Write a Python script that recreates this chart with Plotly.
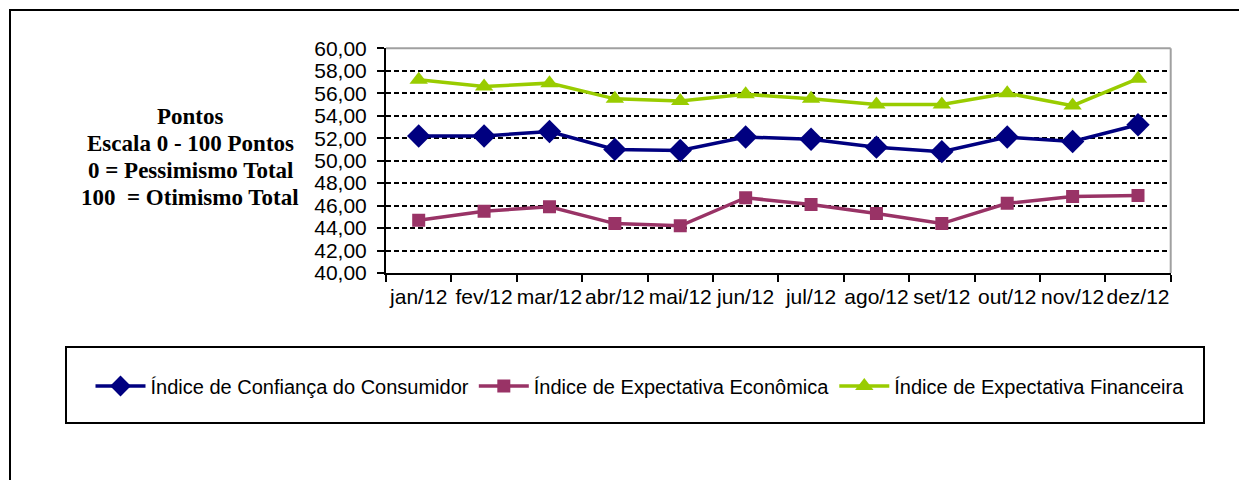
import plotly.graph_objects as go

W, H = 1247, 480
OX, OY = 8, 8  # page body margin compensation

meses = ["jan/12", "fev/12", "mar/12", "abr/12", "mai/12", "jun/12",
         "jul/12", "ago/12", "set/12", "out/12", "nov/12", "dez/12"]
icc = [52.2, 52.2, 52.6, 51.0, 50.9, 52.1, 51.9, 51.2, 50.8, 52.1, 51.7, 53.2]
iee = [44.7, 45.5, 45.9, 44.4, 44.2, 46.7, 46.1, 45.3, 44.4, 46.2, 46.8, 46.9]
ief = [57.2, 56.6, 56.9, 55.5, 55.3, 55.9, 55.5, 55.0, 55.0, 56.0, 54.9, 57.3]

series = [
    ("Índice de Confiança do Consumidor", icc, "#000080", "diamond", 18),
    ("Índice de Expectativa Econômica", iee, "#993366", "square", 13),
    ("Índice de Expectativa Financeira", ief, "#99CC00", "triangle-up", 16),
]

left_text = ["Pontos", "Escala 0 - 100 Pontos", "0 = Pessimismo Total", "100  = Otimismo Total"]

def px(x):
    return (x - OX) / W

def py(y):
    return 1 - (y - OY) / H

fig = go.Figure()
for name, vals, color, sym, size in series:
    fig.add_trace(go.Scatter(
        x=meses, y=vals, name=name, mode="lines+markers",
        line=dict(color=color, width=3.5),
        marker=dict(symbol=sym, size=size, color=color),
    ))

fig.update_layout(
    width=W, height=H,
    margin=dict(l=0, r=0, t=0, b=0, autoexpand=False),
    paper_bgcolor="white", plot_bgcolor="white",
    separators=",.",
    font=dict(family="Liberation Sans, Arial", size=21, color="black"),
    showlegend=True,
    legend=dict(orientation="h", x=px(640), xanchor="center", y=py(386), yanchor="middle",
                font=dict(size=20), itemwidth=50, bgcolor="rgba(0,0,0,0)",
                tracegroupgap=0),
    xaxis=dict(domain=[px(386), px(1170.7)], type="category", range=[-0.5, 11.5],
               tickson="boundaries",
               ticks="outside", ticklen=7, tickwidth=2, tickcolor="black", tickangle=0,
               showline=True, linecolor="black", linewidth=2, showgrid=False,
               ticklabelstandoff=4, zeroline=False, automargin=False),
    yaxis=dict(domain=[py(273), py(48.3)], range=[40, 60], dtick=2, tick0=40,
               tickformat=".2f", ticks="outside", ticklen=7, tickwidth=2, tickcolor="black",
               showline=True, linecolor="black", linewidth=2,
               showgrid=True, gridcolor="black", gridwidth=1.6, griddash="5px,3px",
               ticklabelstandoff=6, zeroline=False, automargin=False),
)

# plot-area top and right grey border
fig.add_shape(type="line", xref="x domain", yref="y domain", x0=0, x1=1, y0=1, y1=1,
              line=dict(color="#A0A0A0", width=2))
fig.add_shape(type="line", xref="x domain", yref="y domain", x0=1, x1=1, y0=0, y1=1,
              line=dict(color="#A0A0A0", width=2))
# outer chart border
fig.add_shape(type="rect", xref="paper", yref="paper", x0=px(10), x1=1.05, y0=-0.05, y1=py(10),
              line=dict(color="black", width=2), layer="below")
# legend box
fig.add_shape(type="rect", xref="paper", yref="paper", x0=px(66), x1=px(1204), y0=py(423), y1=py(347),
              line=dict(color="black", width=2))

ys = [117, 143, 170, 197]
for t, yy in zip(left_text, ys):
    fig.add_annotation(text="<b>%s</b>" % t, xref="paper", yref="paper", x=px(190), y=py(yy),
                       xanchor="center", yanchor="middle", showarrow=False,
                       font=dict(family="Liberation Serif, Times New Roman", size=23, color="black"))

fig.write_html("out.html")
